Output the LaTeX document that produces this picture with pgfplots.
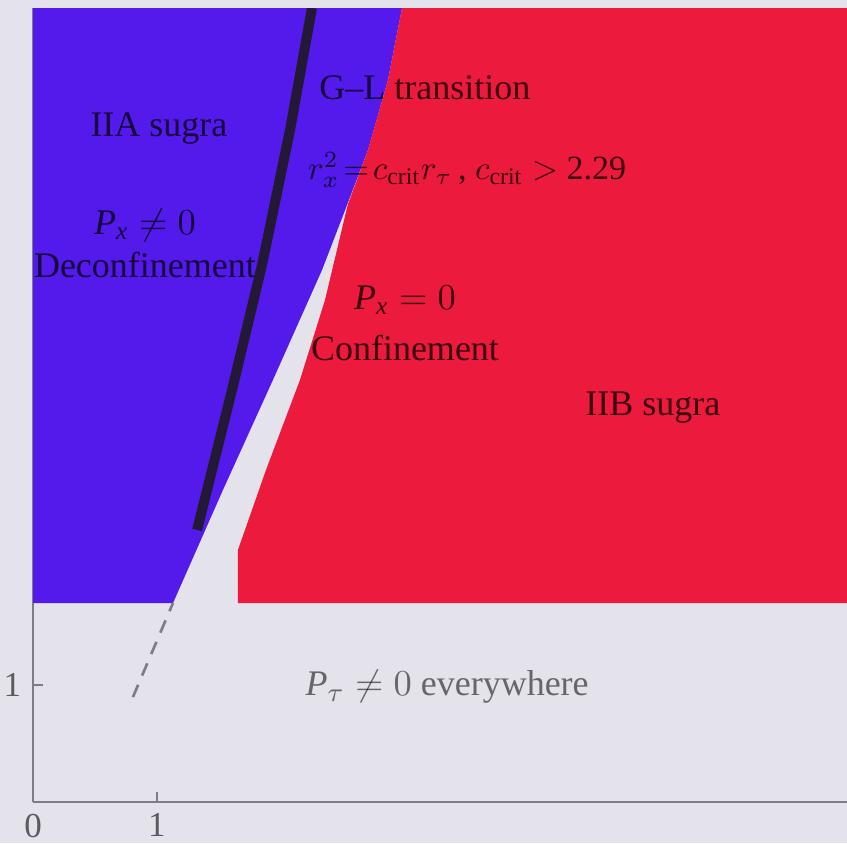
\documentclass[border=0pt]{standalone}
\usepackage{fontspec}
\setmainfont{Liberation Serif}
\usepackage{amsmath}
\usepackage{pgfplots}
\pgfplotsset{compat=1.18}
\definecolor{bg}{RGB}{228,226,235}
\definecolor{myblue}{RGB}{84,26,236}
\definecolor{myred}{RGB}{236,26,60}
\definecolor{axgray}{RGB}{125,125,135}
\definecolor{blk}{RGB}{35,25,55}
\newcommand{\ti}[1]{\textit{#1}}
\begin{document}
\begin{tikzpicture}
\fill[bg] (-9.9pt,-12.3pt) rectangle (244.2pt,240.6pt);
\begin{axis}[
  scale only axis, width=244.2pt, height=238.2pt,
  at={(0pt,0pt)}, anchor=south west,
  xmin=0, xmax=6.565, ymin=0, ymax=6.786,
  axis x line*=bottom, axis y line*=left,
  axis line style={axgray, line width=0.8pt},
  xtick={0,1}, ytick={1},
  tick align=inside,
  tick style={axgray, line width=0.6pt},
  major tick length=3pt,
  tick label style={font=\fontsize{10.5}{12}\selectfont, text=black, text opacity=0.6},
  /pgf/number format/assume math mode=true,
]
\addplot[fill=myblue, draw=none] coordinates {
  (0,1.70) (1.129,1.70) (1.532,2.667) (1.935,3.607) (2.331,4.547)
  (2.508,5.034) (2.702,5.573) (2.863,6.171) (2.976,6.786) (0,6.786)} -- cycle;
\addplot[fill=myred, draw=none] coordinates {
  (1.653,1.70) (1.653,2.154) (1.879,2.838) (2.153,3.607) (2.355,4.291)
  (2.538,5.103) (2.702,5.573) (2.863,6.171) (2.976,6.786) (6.565,6.786) (6.565,1.70)} -- cycle;
\addplot[axgray, line width=0.8pt, dash pattern=on 4pt off 3pt] coordinates {(0.806,0.897) (1.129,1.701)};
\node[text=black, text opacity=0.75, font=\fontsize{10.8}{13}\selectfont] at (axis cs:1.016,5.76) {IIA sugra};
\node[text=black, text opacity=0.75, font=\fontsize{10.8}{13}\selectfont] at (axis cs:0.903,4.93) {$\ti{P}_{\ti{x}}\neq 0$};
\node[text=black, text opacity=0.75, font=\fontsize{10.8}{13}\selectfont] at (axis cs:0.903,4.59) {Deconfinement};
\node[text=black, text opacity=0.75, font=\fontsize{10.8}{13}\selectfont] at (axis cs:3.161,6.103) {G--L transition};
\node[text=black, text opacity=0.75, font=\fontsize{10.2}{12}\selectfont] at (axis cs:3.50,5.40) {$r_x^2\!=\!c_{\text{crit}}r_\tau$\,, $c_{\text{crit}}>$ 2.29};
\node[text=black, text opacity=0.75, font=\fontsize{10.8}{13}\selectfont] at (axis cs:3.0,4.29) {$\ti{P}_{\ti{x}} = 0$};
\node[text=black, text opacity=0.75, font=\fontsize{10.8}{13}\selectfont] at (axis cs:3.0,3.88) {Confinement};
\node[text=black, text opacity=0.75, font=\fontsize{10.8}{13}\selectfont] at (axis cs:5.0,3.37) {IIB sugra};
\node[text=black, text opacity=0.55, font=\fontsize{10.8}{13}\selectfont] at (axis cs:3.34,0.983) {$\ti{P}_{\tau}\neq 0$ everywhere};
\addplot[blk, line width=3pt] coordinates {(1.323,2.325) (1.605,3.521) (1.847,4.590) (2.073,5.744) (2.250,6.786)};
\end{axis}
\pgfresetboundingbox
\path[use as bounding box] (-9.9pt,-12.3pt) rectangle (244.2pt,240.6pt);
\end{tikzpicture}
\end{document}
